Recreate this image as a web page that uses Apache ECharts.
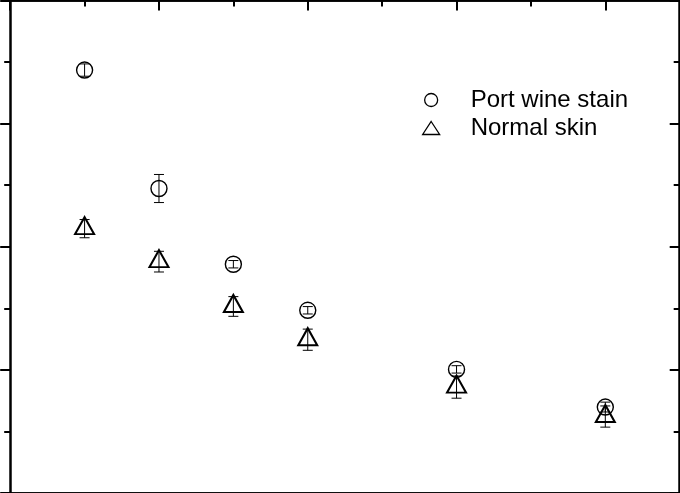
<!DOCTYPE html>
<html>
<head>
<meta charset="utf-8">
<script src="https://cdn.jsdelivr.net/npm/echarts@6/dist/echarts.min.js"></script>
<style>
    html, body { margin: 0; padding: 0; background: #fff; }
    #chart { width: 680px; height: 493px; }
</style>
</head>
<body>
<div id="chart"></div>
<script>
// Data
var xValues = [1, 2, 3, 4, 6, 8];
var seriesNames = ['Port wine stain', 'Normal skin'];
var pwsMean = [3.435, 2.473, 1.858, 1.484, 1.004, 0.698];
var pwsErr = [0.05, 0.114, 0.03, 0.03, 0.03, 0.04];
var normalMean = [2.147, 1.879, 1.515, 1.245, 0.860, 0.621];
var normalErr = [0.074, 0.084, 0.08, 0.086, 0.09, 0.086];


var ScatterErrorChart = function() {

    var _build = function(dom_id) {
        if (typeof echarts == 'undefined') {
            console.warn('Warning - echarts.min.js is not loaded.');
            return;
        }

        var element = document.getElementById(dom_id);
        if (!element) return;

        var chart = echarts.init(element);

        // points + error rows
        var toPoints = function(means) {
            return xValues.map(function(x, i) { return [x, means[i]]; });
        };
        var toErrors = function(means, errs) {
            return xValues.map(function(x, i) { return [x, means[i] - errs[i], means[i] + errs[i]]; });
        };

        // error bar drawer
        var renderErrorBar = function(params, api) {
            var lo = api.coord([api.value(0), api.value(1)]);
            var hi = api.coord([api.value(0), api.value(2)]);
            var half = 5;
            var style = { stroke: '#000', lineWidth: 1, fill: null };
            return {
                type: 'group',
                children: [
                    { type: 'line', shape: { x1: lo[0], y1: lo[1], x2: hi[0], y2: hi[1] }, style: style },
                    { type: 'line', shape: { x1: lo[0] - half, y1: lo[1], x2: lo[0] + half, y2: lo[1] }, style: style },
                    { type: 'line', shape: { x1: hi[0] - half, y1: hi[1], x2: hi[0] + half, y2: hi[1] }, style: style }
                ]
            };
        };

        // axis helpers
        var xAxisCfg = function(pos, interval, len, inside, lineWidth) {
            return {
                type: 'value', position: pos, min: 0, max: 9, interval: interval,
                axisLine: { show: true, onZero: false, lineStyle: { color: '#000', width: lineWidth } },
                axisTick: { show: true, inside: inside, length: len, lineStyle: { color: '#000', width: 2 } },
                axisLabel: { show: false },
                splitLine: { show: false }
            };
        };
        var yAxisCfg = function(pos, inside, len, minorLen) {
            return {
                type: 'value', position: pos, min: 0, max: 4, interval: 1,
                axisLine: { show: true, onZero: false, lineStyle: { color: '#000', width: 2.5 } },
                axisTick: { show: true, inside: inside, length: len, lineStyle: { color: '#000', width: 2 } },
                minorTick: { show: true, splitNumber: 2, length: minorLen, lineStyle: { color: '#000', width: 2 } },
                axisLabel: { show: false },
                splitLine: { show: false },
                minorSplitLine: { show: false }
            };
        };

        var hollow = function(width) {
            return { color: 'rgba(0,0,0,0)', borderColor: '#000', borderWidth: width, opacity: 1 };
        };

        var options = {
            animation: false,
            textStyle: {
                fontFamily: '"Liberation Sans", Arial, sans-serif'
            },
            grid: {
                left: 10.2,
                right: 0.3,
                top: 0.5,
                bottom: -0.8
            },

            legend: {
                orient: 'vertical',
                left: 422,
                top: 86,
                padding: 0,
                itemGap: 0,
                itemWidth: 17,
                itemHeight: 13,
                selectedMode: false,
                textStyle: {
                    color: '#000',
                    fontSize: 24,
                    lineHeight: 28,
                    padding: [0, 0, 0, 26]
                },
                data: [
                    { name: seriesNames[0], icon: 'circle', itemStyle: hollow(1.3) },
                    { name: seriesNames[1], icon: 'triangle', itemStyle: hollow(1.3) }
                ]
            },

            xAxis: [
                xAxisCfg('bottom', 1, 6, false, 2.5),
                xAxisCfg('bottom', 2, 10, false, 2.5),
                xAxisCfg('top', 1, 6, true, 2.5),
                xAxisCfg('top', 2, 10, true, 2.5)
            ],
            yAxis: [
                yAxisCfg('left', false, 10, 6),
                yAxisCfg('right', true, 10, 6)
            ],

            series: [{
                name: seriesNames[0],
                type: 'scatter',
                symbol: 'circle',
                symbolSize: 16,
                itemStyle: hollow(1.4),
                data: toPoints(pwsMean),
                z: 3
            }, {
                name: seriesNames[1],
                type: 'scatter',
                symbol: 'triangle',
                symbolSize: [19, 17],
                symbolOffset: [0, -3],
                itemStyle: hollow(2),
                data: toPoints(normalMean),
                z: 3
            }, {
                type: 'custom',
                renderItem: renderErrorBar,
                data: toErrors(pwsMean, pwsErr),
                silent: true,
                z: 4
            }, {
                type: 'custom',
                renderItem: renderErrorBar,
                data: toErrors(normalMean, normalErr),
                silent: true,
                z: 4
            }]
        };

        chart.setOption(options);

        window.addEventListener('resize', function() {
            chart.resize();
        });
    };

    return {
        init: function(dom_id) {
            _build(dom_id);
        }
    }
}();

ScatterErrorChart.init('chart');
</script>
</body>
</html>
